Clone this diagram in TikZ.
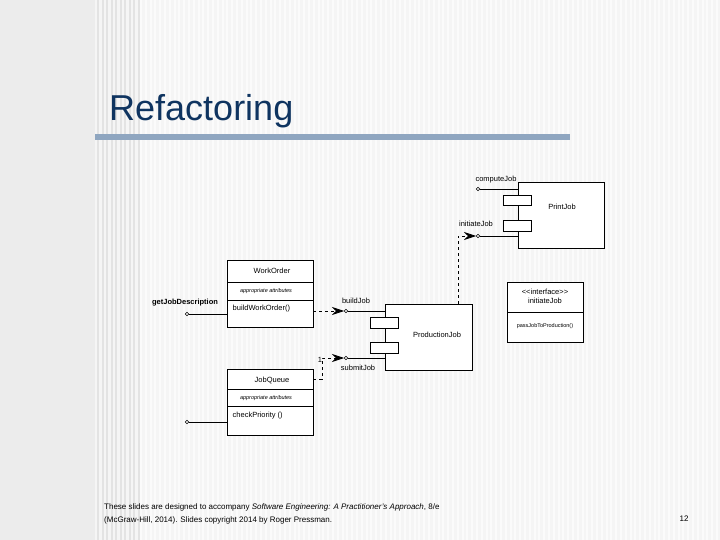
\documentclass[tikz,border=0pt]{standalone}
\usepackage{fontspec}
\setmainfont{Liberation Sans}
\usetikzlibrary{arrows.meta}
\definecolor{titleblue}{HTML}{0F3460}
\definecolor{barblue}{HTML}{8FA6C0}
\begin{document}
\begin{tikzpicture}[x=1pt,y=-1pt,
  box/.style={draw,line width=0.6pt,fill=white},
  lbl/.style={font=\fontsize{7.5}{8.5}\selectfont,inner sep=0.5pt},
  tiny/.style={font=\fontsize{5.5}{6}\selectfont\itshape,inner sep=0.5pt},
  port/.style={circle,draw,fill=white,inner sep=0pt,minimum size=3.5pt},
  dep/.style={dashed,line width=0.7pt,-{Stealth[length=12pt,width=8pt,inset=4pt]}},
  conn/.style={line width=0.6pt}]
\useasboundingbox (0,0) rectangle (720,540);
\fill[gray!15] (0,0) rectangle (720,540);
\fill[gray!8] (95,0) rectangle (720,540);
\foreach \i in {0,...,9}{\fill[gray!22] (97+\i*4.5,0) rectangle (99+\i*4.5,540);}
\foreach \i in {0,...,120}{\fill[white!70!gray!10] (140+\i*4.8,0) rectangle (142+\i*4.8,540);}
\node[anchor=base west,font=\fontsize{36}{40}\selectfont,text=titleblue,inner sep=0] (title) at (109,121) {Refactoring};
\fill[barblue] (95,134) rectangle (570,140);
% PrintJob
\node[box,minimum width=86pt,minimum height=66pt,inner sep=0] (pj) at (561,215) {};
\node[lbl] (pjl) at (562,207) {PrintJob};
\node[box,minimum width=28pt,minimum height=10pt,inner sep=0] (pjs1) at (517,200.5) {};
\node[box,minimum width=28pt,minimum height=11pt,inner sep=0] (pjs2) at (517,225.5) {};
\coordinate (cje) at (518,189);
\coordinate (ije) at (518,236);
\coordinate (prjt) at (458,304);
\draw[dep] (prjt) |- (476,236);
\node[port] (cjp) at (478,189) {};
\draw[conn] (cjp) -- (cje);
\node[lbl] (cjl) at (496,180) {computeJob};
\node[port] (ijp) at (478,236) {};
\draw[conn] (ijp) -- (ije);
\node[lbl] (ijl) at (476,224) {initiateJob};
% ProductionJob
\node[box,minimum width=87pt,minimum height=66pt,inner sep=0] (prj) at (428.5,337) {};
\node[lbl] (prjl) at (437,335) {ProductionJob};
\node[box,minimum width=28pt,minimum height=11pt,inner sep=0] (ps1) at (384,322.5) {};
\node[box,minimum width=28pt,minimum height=11pt,inner sep=0] (ps2) at (384,347.5) {};
% WorkOrder
\draw[box] (227,260) rectangle (313,327);
\draw (227,282) -- (313,282) (227,300) -- (313,300);
\node[lbl] (wo) at (272,271) {WorkOrder};
\node[tiny] (woa) at (266,291) {appropriate attributes};
\node[lbl,anchor=west] (woo) at (232,309) {buildWorkOrder()};
\coordinate (wor) at (313,311);
\draw[dep] (wor) -- (344,311);
\node[port] (bjp) at (346,311) {};
\coordinate (bje) at (385,311);
\draw[conn] (bjp) -- (bje);
\node[lbl] (bjl) at (356,301) {buildJob};
\node[port] (gjp) at (187,314) {};
\coordinate (gje) at (227,314);
\draw[conn] (gjp) -- (gje);
\node[lbl,font=\fontsize{7.5}{8.5}\selectfont\bfseries] (gjl) at (185,303) {getJobDescription};
% JobQueue
\draw[box] (227,369) rectangle (313,435);
\draw (227,389) -- (313,389) (227,406) -- (313,406);
\node[lbl] (jq) at (272,380) {JobQueue};
\node[tiny] (jqa) at (266,398) {appropriate attributes};
\node[lbl,anchor=west] (jqo) at (232,416) {checkPriority ()};
\node[port] (cpp) at (187,422) {};
\coordinate (cpe) at (227,422);
\draw[conn] (cpp) -- (cpe);
\coordinate (jqr) at (313,379);
\draw[dep] (jqr) -- (322,379) |- (344,358);
\node[port] (sjp) at (346,358) {};
\coordinate (sje) at (385,358);
\draw[conn] (sjp) -- (sje);
\node[lbl] (sjl) at (358,368) {submitJob};
\node[lbl] (one) at (320,360) {1};
% interface
\draw[box] (507,282) rectangle (583,342);
\draw (507,312) -- (583,312);
\node[lbl,align=center,font=\fontsize{7.5}{9}\selectfont] (ifn) at (545,296) {<\kern0pt<interface>\kern0pt>\\initiateJob};
\node[lbl,font=\fontsize{5.5}{6}\selectfont] (ifo) at (545,326) {passJobToProduction()};
% footer
\node[anchor=west,inner sep=0,font=\fontsize{8}{10}\selectfont] (f1) at (104,507) {These slides are designed to accompany \textit{Software Engineering: A Practitioner's Approach}, 8/e};
\node[anchor=west,inner sep=0,font=\fontsize{8}{10}\selectfont] (f2) at (104,520) {(McGraw-Hill, 2014). Slides copyright 2014 by Roger Pressman.};
\node[inner sep=0,font=\fontsize{8}{10}\selectfont] (pg) at (684,519) {12};
\end{tikzpicture}
\end{document}
